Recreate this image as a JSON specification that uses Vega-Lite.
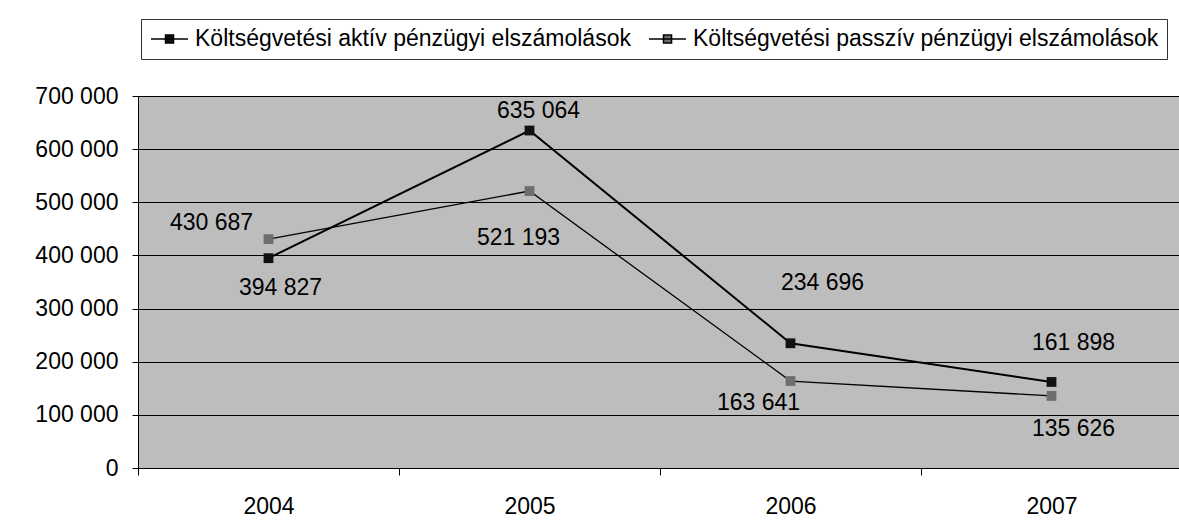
{
  "$schema": "https://vega.github.io/schema/vega-lite/v6.json",
  "autosize": {"type": "none"},
  "padding": {"left": 138, "top": 96, "right": 0, "bottom": 62},
  "width": 1044,
  "height": 372,
  "data": {
    "values": [
      {"year": "2004", "series": "Költségvetési aktív pénzügyi elszámolások", "value": 394827},
      {"year": "2005", "series": "Költségvetési aktív pénzügyi elszámolások", "value": 635064},
      {"year": "2006", "series": "Költségvetési aktív pénzügyi elszámolások", "value": 234696},
      {"year": "2007", "series": "Költségvetési aktív pénzügyi elszámolások", "value": 161898},
      {"year": "2004", "series": "Költségvetési passzív pénzügyi elszámolások", "value": 430687},
      {"year": "2005", "series": "Költségvetési passzív pénzügyi elszámolások", "value": 521193},
      {"year": "2006", "series": "Költségvetési passzív pénzügyi elszámolások", "value": 163641},
      {"year": "2007", "series": "Költségvetési passzív pénzügyi elszámolások", "value": 135626}
    ]
  },
  "encoding": {
    "x": {
      "field": "year", "type": "nominal", "bandPosition": 0.5,
      "scale": {"type": "band", "paddingInner": 0, "paddingOuter": 0},
      "axis": {"title": null, "labelAngle": 0, "tickBand": "extent", "domainColor": "black", "tickColor": "black", "tickSize": 7, "labelFontSize": 23, "labelPadding": 20, "labelColor": "black", "grid": false}
    },
    "y": {
      "field": "value", "type": "quantitative",
      "scale": {"domain": [0, 700000], "nice": false},
      "axis": {"title": null, "values": [0, 100000, 200000, 300000, 400000, 500000, 600000, 700000], "format": ",d", "grid": true, "gridColor": "black", "gridWidth": 1, "gridOpacity": 1, "domainColor": "black", "tickColor": "black", "tickSize": 6, "labelFontSize": 23, "labelPadding": 14, "labelColor": "black"}
    }
  },
  "layer": [
    {
      "mark": {"type": "line", "stroke": "black"},
      "encoding": {
        "detail": {"field": "series"},
        "strokeWidth": {"field": "series", "type": "nominal", "scale": {"range": [2, 1.3]}, "legend": null}
      }
    },
    {
      "mark": {"type": "point", "shape": "square", "filled": true, "size": 96, "opacity": 1},
      "encoding": {
        "color": {
          "field": "series", "type": "nominal",
          "scale": {"range": ["#111111", "#6e6e6e"]},
          "legend": {
            "orient": "none", "legendX": 3, "legendY": -77, "direction": "horizontal", "title": null,
            "symbolType": "M-0.91,0H2.45M0.41,-0.36H1.14V0.36H0.41Z",
            "symbolSize": 484, "symbolStrokeWidth": 1.5, "symbolStrokeColor": "black", "symbolOpacity": 1,
            "labelFontSize": 23, "labelOffset": 22, "labelColor": "black", "labelLimit": 0,
            "columnPadding": 14, "padding": 8, "strokeColor": "#333333",
            "encode": {"symbols": {"update": {"stroke": {"value": "black"}, "strokeWidth": {"value": 1.5}}}}
          }
        }
      }
    },
    {
      "transform": [{"filter": "datum.year == '2004' && indexof(datum.series, 'aktív') >= 0"}],
      "mark": {"type": "text", "dx": 12, "dy": 30, "fontSize": 23, "baseline": "middle", "color": "black"},
      "encoding": {"text": {"field": "value", "type": "quantitative", "format": ",d"}}
    },
    {
      "transform": [{"filter": "datum.year == '2004' && indexof(datum.series, 'passzív') >= 0"}],
      "mark": {"type": "text", "dx": -57, "dy": -16, "fontSize": 23, "baseline": "middle", "color": "black"},
      "encoding": {"text": {"field": "value", "type": "quantitative", "format": ",d"}}
    },
    {
      "transform": [{"filter": "datum.year == '2005' && indexof(datum.series, 'aktív') >= 0"}],
      "mark": {"type": "text", "dx": 9, "dy": -20, "fontSize": 23, "baseline": "middle", "color": "black"},
      "encoding": {"text": {"field": "value", "type": "quantitative", "format": ",d"}}
    },
    {
      "transform": [{"filter": "datum.year == '2005' && indexof(datum.series, 'passzív') >= 0"}],
      "mark": {"type": "text", "dx": -11, "dy": 47, "fontSize": 23, "baseline": "middle", "color": "black"},
      "encoding": {"text": {"field": "value", "type": "quantitative", "format": ",d"}}
    },
    {
      "transform": [{"filter": "datum.year == '2006' && indexof(datum.series, 'aktív') >= 0"}],
      "mark": {"type": "text", "dx": 32, "dy": -60, "fontSize": 23, "baseline": "middle", "color": "black"},
      "encoding": {"text": {"field": "value", "type": "quantitative", "format": ",d"}}
    },
    {
      "transform": [{"filter": "datum.year == '2006' && indexof(datum.series, 'passzív') >= 0"}],
      "mark": {"type": "text", "dx": -32, "dy": 22, "fontSize": 23, "baseline": "middle", "color": "black"},
      "encoding": {"text": {"field": "value", "type": "quantitative", "format": ",d"}}
    },
    {
      "transform": [{"filter": "datum.year == '2007' && indexof(datum.series, 'aktív') >= 0"}],
      "mark": {"type": "text", "dx": 22, "dy": -39, "fontSize": 23, "baseline": "middle", "color": "black"},
      "encoding": {"text": {"field": "value", "type": "quantitative", "format": ",d"}}
    },
    {
      "transform": [{"filter": "datum.year == '2007' && indexof(datum.series, 'passzív') >= 0"}],
      "mark": {"type": "text", "dx": 22, "dy": 33, "fontSize": 23, "baseline": "middle", "color": "black"},
      "encoding": {"text": {"field": "value", "type": "quantitative", "format": ",d"}}
    }
  ],
  "config": {
    "font": "Liberation Sans",
    "background": "white",
    "view": {"fill": "#bdbdbd", "stroke": null},
    "locale": {"number": {"decimal": ",", "thousands": " ", "grouping": [3], "currency": ["", ""]}}
  }
}
